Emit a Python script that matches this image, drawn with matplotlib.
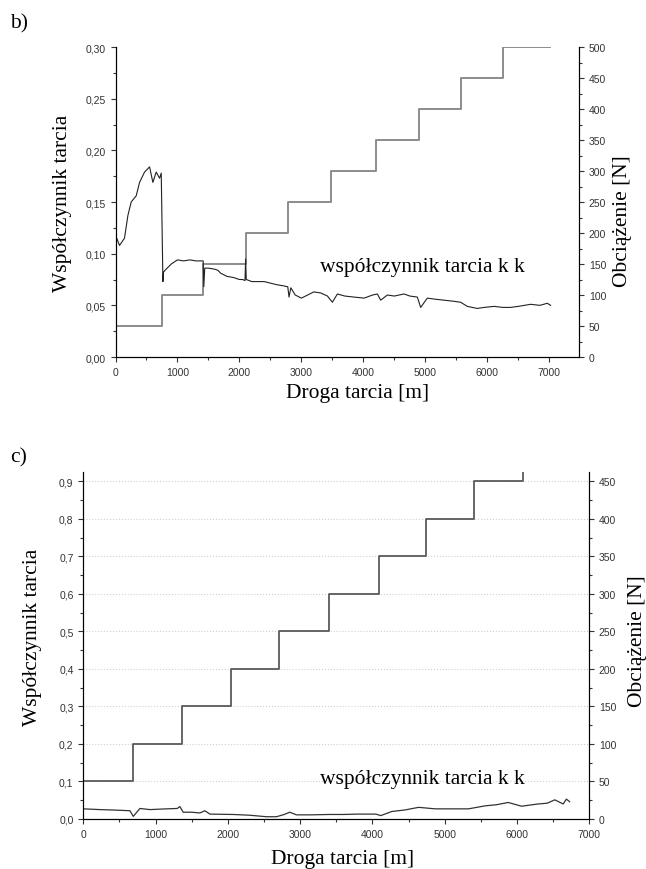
import numpy as np
import matplotlib.pyplot as plt
from matplotlib.ticker import MultipleLocator, FuncFormatter

# panel b) - friction coefficient vs sliding distance
b_dist = [0, 65, 145, 200, 253, 334, 388, 469, 550, 603, 657, 711, 738, 765,
          775, 800, 850, 900, 1000, 1100, 1200, 1300, 1400, 1415, 1425, 1440,
          1500, 1600, 1650, 1700, 1800, 1900, 2000, 2050, 2090, 2100, 2110,
          2200, 2400, 2600, 2700, 2780, 2800, 2830, 2900, 3000, 3100, 3200,
          3312, 3420, 3500, 3581, 3700, 3849, 4011, 4150, 4226, 4280, 4387,
          4500, 4656, 4750, 4871, 4925, 5032, 5150, 5300, 5450, 5570, 5677,
          5839, 5950, 6108, 6250, 6376, 6500, 6699, 6850, 6968, 7022]
b_mu = [0.118, 0.108, 0.115, 0.137, 0.150, 0.156, 0.169, 0.179, 0.184, 0.169,
        0.179, 0.173, 0.178, 0.073, 0.082, 0.084, 0.087, 0.090, 0.094, 0.093,
        0.094, 0.093, 0.093, 0.093, 0.068, 0.086, 0.086, 0.085, 0.084, 0.081,
        0.078, 0.077, 0.075, 0.075, 0.074, 0.095, 0.075, 0.073, 0.073, 0.070,
        0.069, 0.068, 0.058, 0.067, 0.060, 0.057, 0.060, 0.063, 0.062, 0.059,
        0.053, 0.061, 0.059, 0.058, 0.057, 0.060, 0.061, 0.055, 0.060, 0.059,
        0.061, 0.059, 0.058, 0.048, 0.057, 0.056, 0.055, 0.054, 0.053, 0.049,
        0.047, 0.048, 0.049, 0.048, 0.048, 0.049, 0.051, 0.050, 0.052, 0.050]

# panel b) - load steps
b_load_x = [0, 755, 1420, 2100, 2785, 3480, 4210, 4890, 5575, 6250, 7010]
b_load = [50, 100, 150, 200, 250, 300, 350, 400, 450, 500, 500]

# panel c) - friction coefficient
c_dist = [0, 230, 400, 645, 691, 783, 922, 1152, 1300, 1336, 1382, 1500, 1613,
          1682, 1751, 2074, 2300, 2535, 2673, 2780, 2857, 2949, 3150, 3410,
          3600, 3800, 4050, 4115, 4270, 4450, 4640, 4870, 5100, 5330, 5560,
          5720, 5880, 6065, 6295, 6420, 6525, 6640, 6685, 6730]
c_mu = [0.027, 0.025, 0.024, 0.022, 0.007, 0.028, 0.025, 0.027, 0.028, 0.033,
        0.018, 0.018, 0.016, 0.022, 0.013, 0.012, 0.010, 0.006, 0.006, 0.012,
        0.018, 0.011, 0.011, 0.012, 0.012, 0.013, 0.013, 0.009, 0.020, 0.024,
        0.031, 0.027, 0.027, 0.027, 0.035, 0.038, 0.044, 0.034, 0.040, 0.042,
        0.051, 0.040, 0.053, 0.046]

# panel c) - load steps
c_load_x = [0, 682, 1359, 2037, 2710, 3395, 4086, 4737, 5411, 6090]
c_load = [50, 100, 150, 200, 250, 300, 350, 400, 450, 500]

serif = 'Liberation Serif'
sans = 'Liberation Sans'
label_size = 15.5


def comma_fmt(decimals):
    return FuncFormatter(lambda v, p: f'{v:.{decimals}f}'.replace('.', ','))


def style_axes(ax, ax2):
    for a in (ax, ax2):
        a.spines['top'].set_visible(False)
        a.tick_params(which='both', direction='out', labelsize=7.5,
                      colors='#333333', width=0.8)
        a.tick_params(which='major', length=3.5)
        a.tick_params(which='minor', length=2)
        for lab in a.get_xticklabels() + a.get_yticklabels():
            lab.set_family(sans)
    ax.xaxis.set_major_locator(MultipleLocator(1000))
    ax.xaxis.set_minor_locator(MultipleLocator(500))
    ax2.yaxis.set_major_locator(MultipleLocator(50))
    ax2.yaxis.set_minor_locator(MultipleLocator(25))
    ax.set_zorder(ax2.get_zorder() + 1)
    ax.patch.set_visible(False)


fig = plt.figure(figsize=(6.46, 8.7), dpi=100)

# ---- panel b
ax = fig.add_axes([0.1788, 0.5885, 0.7175, 0.3563])
ax2 = ax.twinx()
ax2.plot(b_load_x, b_load, drawstyle='steps-post', color='#8c8c8c', lw=1.4)
ax.plot(b_dist, b_mu, color='#222222', lw=0.8)
ax.set_xlim(0, 7480)
ax.set_ylim(0, 0.30)
ax2.set_ylim(0, 500)
ax.yaxis.set_major_locator(MultipleLocator(0.05))
ax.yaxis.set_minor_locator(MultipleLocator(0.025))
ax.yaxis.set_major_formatter(comma_fmt(2))
style_axes(ax, ax2)
ax.set_xlabel('Droga tarcia [m]', family=serif, fontsize=label_size)
ax.xaxis.set_label_coords(0.523, -0.085)
ax.set_ylabel('Współczynnik tarcia', family=serif, fontsize=label_size)
ax.yaxis.set_label_coords(-0.094, 0.5)
ax2.set_ylabel('Obciążenie [N]', family=serif, fontsize=label_size)
ax2.yaxis.set_label_coords(1.074, 0.44)
ax.text(4960, 0.088, 'współczynnik tarcia k k', family=serif,
        fontsize=label_size, ha='center', va='center')
fig.text(0.015, 0.973, 'b)', family=serif, fontsize=label_size, va='center')

# ---- panel c
ax = fig.add_axes([0.129, 0.0575, 0.783, 0.399])
ax2 = ax.twinx()
ax2.grid(axis='y', ls=':', color='#d0d0d0', lw=0.8)
ax2.plot(c_load_x, c_load, drawstyle='steps-post', color='#5a5a5a', lw=1.3)
ax.plot(c_dist, c_mu, color='#333333', lw=0.9)
ax.set_xlim(0, 7000)
ax.set_ylim(0, 0.925)
ax2.set_ylim(0, 462.5)
ax.yaxis.set_major_locator(MultipleLocator(0.1))
ax.yaxis.set_minor_locator(MultipleLocator(0.05))
ax.yaxis.set_major_formatter(comma_fmt(1))
style_axes(ax, ax2)
ax.set_xlabel('Droga tarcia [m]', family=serif, fontsize=label_size)
ax.xaxis.set_label_coords(0.513, -0.087)
ax.set_ylabel('Współczynnik tarcia', family=serif, fontsize=label_size)
ax.yaxis.set_label_coords(-0.082, 0.526)
ax2.set_ylabel('Obciążenie [N]', family=serif, fontsize=label_size)
ax2.yaxis.set_label_coords(1.077, 0.516)
ax.text(4698, 0.107, 'współczynnik tarcia k k', family=serif,
        fontsize=label_size, ha='center', va='center')
fig.text(0.015, 0.474, 'c)', family=serif, fontsize=label_size, va='center')

fig.savefig('out.png', dpi=100)
